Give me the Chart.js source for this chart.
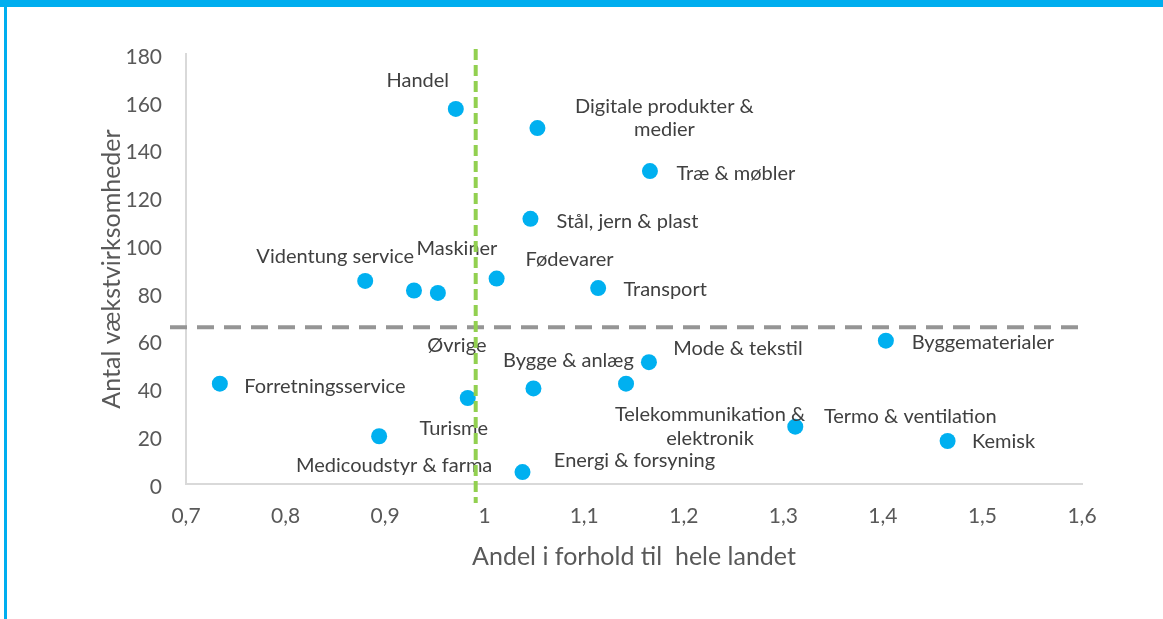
<!DOCTYPE html>
<html>
<head>
<meta charset="utf-8">
<script src="https://cdn.jsdelivr.net/npm/chart.js@4/dist/chart.umd.min.js"></script>
<style>
  html, body { margin: 0; padding: 0; background: #ffffff; }
  #wrap { position: relative; width: 1163px; height: 619px; overflow: hidden; }
  #c { position: absolute; left: 0; top: 0; }
  #topbar { position: absolute; left: 0; top: 0; width: 1163px; height: 7px; background: #00AEEF; }
  #leftbar { position: absolute; left: 4px; top: 0; width: 3px; height: 619px; background: #00AEEF; }
</style>
</head>
<body>
<div id="wrap">
  <canvas id="c" width="1163" height="619"></canvas>
  <div id="topbar"></div>
  <div id="leftbar"></div>
</div>
<script>
// ---- data ----
const categories = [
  "Handel",
  "Digitale produkter &\nmedier",
  "Træ & møbler",
  "Stål, jern & plast",
  "Videntung service",
  "Maskiner",
  "Fødevarer",
  "Transport",
  "Øvrige",
  "Bygge & anlæg",
  "Mode & tekstil",
  "Byggematerialer",
  "Forretningsservice",
  "Turisme",
  "Medicoudstyr & farma",
  "Energi & forsyning",
  "Telekommunikation &\nelektronik",
  "Termo & ventilation",
  "Kemisk"
];
const shareValues = [0.971, 1.053, 1.166, 1.046, 0.880, 0.929, 1.012, 1.114, 0.953, 1.049, 1.165, 1.403, 0.734, 0.983, 0.894, 1.038, 1.142, 1.312, 1.465];
const countValues = [157, 149, 131, 111, 85, 81, 86, 82, 80, 40, 51, 60, 42, 36, 20, 5, 42, 24, 18];
const xTickValues = [0.7, 0.8, 0.9, 1.0, 1.1, 1.2, 1.3, 1.4, 1.5, 1.6];
const yTickValues = [0, 20, 40, 60, 80, 100, 120, 140, 160, 180];
const refShare = 0.991;   // vertical reference (green)
const refCount = 65.6;    // horizontal reference (grey)
const xTitle = "Andel i forhold til  hele landet";
const yTitle = "Antal vækstvirksomheder";

// ---- label placement (styling, pixel offsets from each point) ----
const labelOffsets = [
  [-38, -28], [127, -10], [86, 2], [97, 3], [-30, -24], [43, -42], [73, -19], [67, 1],
  [19, 53], [35, -28], [89, -14], [97, 2], [105, 3], [-14, 31], [15, 29], [112, -12],
  [84, 43], [115, -10], [56, 1]
];

const FONT = "Lato, 'Open Sans', sans-serif";
const points = shareValues.map((x, i) => ({ x: x, y: countValues[i] }));

const overlay = {
  id: 'overlay',
  afterDatasetsDraw(chart) {
    const ctx = chart.ctx;
    const meta = chart.getDatasetMeta(0);
    ctx.save();
    ctx.font = "20px " + FONT;
    ctx.fillStyle = '#404040';
    ctx.textAlign = 'center';
    ctx.textBaseline = 'middle';
    const lh = 23.5;
    meta.data.forEach((pt, i) => {
      const lines = categories[i].split('\n');
      const off = labelOffsets[i];
      const cx = pt.x + off[0], cy = pt.y + off[1];
      lines.forEach((ln, j) => ctx.fillText(ln, cx, cy + (j - (lines.length - 1) / 2) * lh));
    });
    const xs = chart.scales.x, ys = chart.scales.y, a = chart.chartArea;
    // grey horizontal reference
    ctx.lineWidth = 4;
    ctx.strokeStyle = '#959595';
    ctx.setLineDash([17, 10]);
    const gy = ys.getPixelForValue(refCount);
    ctx.beginPath(); ctx.moveTo(a.left - 16, gy); ctx.lineTo(a.right + 5, gy); ctx.stroke();
    // green vertical reference
    ctx.strokeStyle = '#92D050';
    ctx.setLineDash([11, 5]);
    const gx = xs.getPixelForValue(refShare);
    ctx.beginPath(); ctx.moveTo(gx, a.top - 5); ctx.lineTo(gx, a.bottom + 19); ctx.stroke();
    ctx.restore();
  }
};

new Chart(document.getElementById('c'), {
  type: 'scatter',
  data: {
    datasets: [{
      data: points,
      backgroundColor: '#00B0F0',
      borderWidth: 0,
      pointRadius: 8,
      pointHoverRadius: 8
    }]
  },
  options: {
    responsive: false,
    animation: false,
    events: [],
    layout: { padding: { top: 54, right: 81, left: 0, bottom: 0 } },
    plugins: { legend: { display: false }, tooltip: { enabled: false } },
    scales: {
      x: {
        type: 'linear',
        min: 0.7, max: 1.6,
        afterBuildTicks: s => { s.ticks = xTickValues.map(v => ({ value: v })); },
        afterFit: s => { s.height = 135; },
        grid: { display: false, drawTicks: false },
        border: { display: true, color: '#d9d9d9', width: 2 },
        ticks: {
          padding: 20,
          color: '#595959',
          font: { family: FONT, size: 21 },
          callback: v => (Math.round(v * 10) / 10).toString().replace('.', ',')
        },
        title: {
          display: true, text: xTitle, color: '#595959',
          font: { family: FONT, size: 25 },
          padding: { top: 0, bottom: 47 }
        }
      },
      y: {
        type: 'linear',
        min: 0, max: 180,
        afterBuildTicks: s => { s.ticks = yTickValues.map(v => ({ value: v })); },
        afterFit: s => { s.width = 186; },
        grid: { display: false, drawTicks: false },
        border: { display: true, color: '#d9d9d9', width: 2 },
        ticks: {
          padding: 24,
          labelOffset: 3,
          color: '#595959',
          font: { family: FONT, size: 21 }
        },
        title: {
          display: true, text: yTitle, color: '#595959',
          font: { family: FONT, size: 25 },
          padding: { top: 97, bottom: 0 }
        }
      }
    }
  },
  plugins: [overlay]
});
</script>
</body>
</html>
